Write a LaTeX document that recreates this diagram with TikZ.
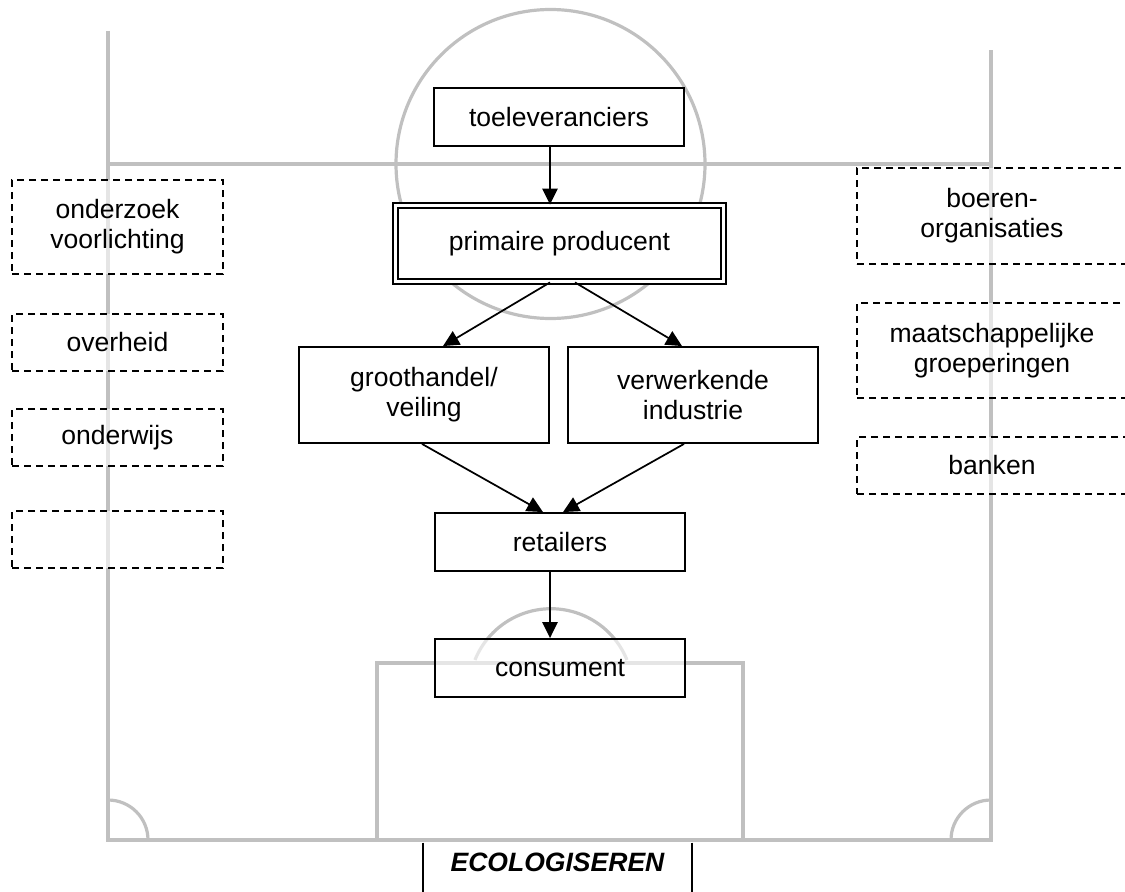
\documentclass[tikz,border=0pt]{standalone}
\usepackage{fontspec}
\setmainfont{Liberation Sans}
\usetikzlibrary{arrows.meta,positioning}
\definecolor{VeldGrijs}{HTML}{C0C0C0}
\tikzset{>={Triangle[length=12pt,width=11.5pt]},every node/.style={font=\fontsize{19.9}{22.5}\selectfont},
 blok/.style={draw,line width=1.4pt,fill=white,fill opacity=.6,text opacity=1,
 minimum width=187.5pt,minimum height=43.5pt,inner sep=0pt,align=center},
 extern/.style={draw,dash pattern=on 5.5pt off 3.5pt,line width=1.3pt,fill=white,
 fill opacity=.6,text opacity=1,inner sep=0pt,align=center},
 veld/.style={draw=VeldGrijs,line width=2.4pt},pijl/.style={->,line width=1.3pt}}

\begin{document}
\begin{tikzpicture}[x=.75pt,y=-.75pt]
\useasboundingbox (0,0) rectangle (1125,892);
\clip (0,0) rectangle (1125,892);
% het veld
\draw[veld] (108,31)--(108,840)--(991,840)--(991,50);
\draw[veld] (108,164)--(991,164);
\draw[veld] (550.5,164) circle[radius=154.5];
\draw[veld] (377,840)--(377,663)--(743,663)--(743,840);
\draw[veld] (627,660) arc[start angle=-22,end angle=-158,radius=82];
\draw[veld] (108,800) arc[start angle=-90,end angle=0,radius=40];
\draw[veld] (951,840) arc[start angle=180,end angle=270,radius=40];
% de keten
\node[blok] (toe) at (559,117) {toeleveranciers};
\node[blok,double,double distance=2.4pt,fill opacity=1,minimum width=246pt,minimum height=57pt]
 (prim) at (559.5,243.5) {primaire producent};
\node[blok,minimum height=72pt] (groot) at (424,395) {groothandel/\\veiling};
\node[blok,minimum height=72pt] (verw) at (693,395) {verwerkende\\industrie};
\node[blok] (ret) at (560,542) {retailers};
\node[blok] (cons) at (560,668) {consument};
\draw[pijl] ([shift={(-9,0)}]toe.south) -- ([shift={(-9.5,0)}]prim.north);
\draw[pijl] ([shift={(-9.5,0)}]prim.south) -- ([shift={(19,0)}]groot.north);
\draw[pijl] ([shift={(15.5,0)}]prim.south) -- ([shift={(-11,0)}]verw.north);
\draw[pijl] ([shift={(-2,0)}]groot.south) -- ([shift={(-17,0)}]ret.north);
\draw[pijl] ([shift={(-9,0)}]verw.south) -- ([shift={(3,0)}]ret.north);
\draw[pijl] ([shift={(-10,0)}]ret.south) -- ([shift={(-10,0)}]cons.north);
% omgeving
\node[extern,minimum width=158.25pt,minimum height=70.5pt] (onderzoek) at (117.5,227) {onderzoek\\voorlichting};
\foreach \naam/\y/\lab in {overheid/342.5/overheid,onderwijs/437.5/onderwijs,leeg/539.5/}
 {\node[extern,minimum width=158.25pt,minimum height=42.75pt] (\naam) at (117.5,\y) {\lab};}
\node[extern,minimum width=202.5pt,minimum height=72pt] (boeren) at (992,216) {boeren-\\organisaties};
\node[extern,minimum width=202.5pt,minimum height=71.25pt] (maats) at (992,350.5) {maatschappelijke\\groeperingen};
\node[extern,minimum width=202.5pt,minimum height=42.75pt] (banken) at (992,465.5) {banken};
\node[inner sep=0pt,minimum width=201.75pt,minimum height=36.75pt,text depth=7.5pt,
 font=\fontsize{19.9}{22.5}\selectfont\bfseries\itshape] (eco) at (557.5,867.5) {ECOLOGISEREN};
\draw[line width=1.4pt] (eco.north west)--(eco.south west) (eco.north east)--(eco.south east);
\end{tikzpicture}
\end{document}
